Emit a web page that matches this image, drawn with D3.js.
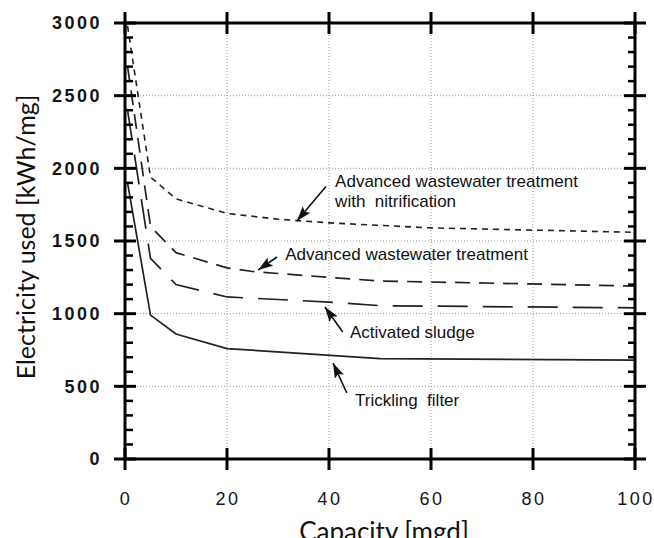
<!DOCTYPE html>
<html>
<head>
<meta charset="utf-8">
<script src="https://cdn.jsdelivr.net/npm/d3@7"></script>
<style>
  html, body { margin: 0; padding: 0; background: #fff; overflow: hidden; }
  svg text { white-space: pre; }
</style>
</head>
<body>
<div id="chart"></div>
<script>
const X_TICKS = [0, 20, 40, 60, 80, 100];
const Y_TICKS = [0, 500, 1000, 1500, 2000, 2500, 3000];

// capacity [mgd] / electricity [kWh/mg]
const NITRIF_X = [0.5, 5, 10, 20, 30, 40, 60, 100];
const NITRIF_Y = [2980, 1940, 1790, 1690, 1650, 1625, 1590, 1560];
const AWT_X = [0.5, 5, 10, 20, 25, 40, 50, 100];
const AWT_Y = [2700, 1600, 1420, 1315, 1290, 1250, 1225, 1190];
const SLUDGE_X = [0.5, 5, 10, 20, 40, 50, 100];
const SLUDGE_Y = [2400, 1380, 1200, 1115, 1080, 1055, 1040];
const TRICKLE_X = [0.5, 5, 10, 20, 50, 100];
const TRICKLE_Y = [1900, 990, 860, 760, 690, 680];

const NOTE_TEXT = [
  ["Advanced wastewater treatment", "with  nitrification"],
  ["Advanced wastewater treatment"],
  ["Activated sludge"],
  ["Trickling  filter"],
];
const NOTE_AT = [[41.2, 1872], [31.4, 1369], [44.1, 833], [45.1, 365]];
const ARROW_FROM = [[39.4, 1875], [29.8, 1390], [42.7, 874], [43.5, 454]];
const ARROW_TO = [[33.7, 1638], [26.1, 1300], [39.2, 1046], [40.8, 660]];

const series = [
  { xs: NITRIF_X, ys: NITRIF_Y, dash: "6,5", width: 1.6 },
  { xs: AWT_X, ys: AWT_Y, dash: "15,9", width: 1.7 },
  { xs: SLUDGE_X, ys: SLUDGE_Y, dash: "30,15", width: 1.7 },
  { xs: TRICKLE_X, ys: TRICKLE_Y, dash: null, width: 1.7 },
];

const W = 654, H = 538;
const x = d3.scaleLinear().domain([0, 100]).range([125, 635]);
const y = d3.scaleLinear().domain([0, 3000]).range([459, 23]);

const svg = d3.select("#chart").append("svg")
  .attr("width", W).attr("height", H);

// grid
svg.append("g").selectAll("line")
  .data(X_TICKS.slice(1, -1))
  .join("line")
  .attr("x1", (d) => x(d)).attr("x2", (d) => x(d))
  .attr("y1", y(0)).attr("y2", y(3000))
  .attr("stroke", "#9a9a9a").attr("stroke-width", 1).attr("stroke-dasharray", "1,2");
svg.append("g").selectAll("line")
  .data(Y_TICKS.slice(1, -1))
  .join("line")
  .attr("x1", x(0)).attr("x2", x(100))
  .attr("y1", (d) => y(d)).attr("y2", (d) => y(d))
  .attr("stroke", "#9a9a9a").attr("stroke-width", 1).attr("stroke-dasharray", "1,2");

// curves
const line = d3.line().x((d) => x(d[0])).y((d) => y(d[1]));
series.forEach((s) => {
  svg.append("path")
    .datum(s.xs.map((v, i) => [v, s.ys[i]]))
    .attr("d", line)
    .attr("fill", "none")
    .attr("stroke", "#222")
    .attr("stroke-width", s.width)
    .attr("stroke-dasharray", s.dash);
});

// frame
const frame = svg.append("g").attr("stroke", "#000").attr("stroke-width", 3);
frame.append("rect")
  .attr("x", x(0)).attr("y", y(3000))
  .attr("width", x(100) - x(0)).attr("height", y(0) - y(3000))
  .attr("fill", "none");

// major ticks crossing the frame
const T = 11;
X_TICKS.forEach((d) => {
  frame.append("line").attr("x1", x(d)).attr("x2", x(d)).attr("y1", y(0) - T).attr("y2", y(0) + T);
  frame.append("line").attr("x1", x(d)).attr("x2", x(d)).attr("y1", y(3000) - T).attr("y2", y(3000) + T);
});
Y_TICKS.forEach((d) => {
  frame.append("line").attr("x1", x(0) - T).attr("x2", x(0) + T).attr("y1", y(d)).attr("y2", y(d));
  frame.append("line").attr("x1", x(100) - T).attr("x2", x(100) + T).attr("y1", y(d)).attr("y2", y(d));
});
// minor ticks on y, inside
d3.range(100, 3000, 100).filter((d) => d % 500 !== 0).forEach((d) => {
  frame.append("line").attr("x1", x(0)).attr("x2", x(0) + 8).attr("y1", y(d)).attr("y2", y(d)).attr("stroke-width", 2.5);
  frame.append("line").attr("x1", x(100) - 7).attr("x2", x(100)).attr("y1", y(d)).attr("y2", y(d)).attr("stroke-width", 2.5);
});

// tick labels
svg.append("g").selectAll("text")
  .data(Y_TICKS)
  .join("text")
  .attr("x", 102)
  .attr("y", (d) => y(d))
  .attr("dy", "0.36em")
  .attr("text-anchor", "end")
  .attr("font-family", "Liberation Sans, Arial, sans-serif")
  .attr("font-weight", "bold")
  .attr("font-size", "18px")
  .attr("letter-spacing", "2.5px")
  .attr("fill", "#151515")
  .text((d) => d);

svg.append("g").selectAll("text")
  .data(X_TICKS)
  .join("text")
  .attr("x", (d) => x(d) + 1)
  .attr("y", 505)
  .attr("text-anchor", "middle")
  .attr("font-family", "Liberation Sans, Arial, sans-serif")
  .attr("font-size", "18px")
  .attr("letter-spacing", "2.5px")
  .attr("fill", "#151515")
  .text((d) => d);

// axis titles
svg.append("text")
  .attr("transform", "translate(35,237) rotate(-90)")
  .attr("text-anchor", "middle")
  .attr("font-family", "Lato, sans-serif")
  .attr("font-size", "25px")
  .attr("fill", "#111")
  .text("Electricity used [kWh/mg]");

svg.append("text")
  .attr("x", 384).attr("y", 541)
  .attr("text-anchor", "middle")
  .attr("font-family", "Lato, sans-serif")
  .attr("font-size", "26px")
  .attr("fill", "#111")
  .text("Capacity [mgd]");

// annotations
svg.append("defs").append("marker")
  .attr("id", "head")
  .attr("markerUnits", "userSpaceOnUse")
  .attr("markerWidth", 16).attr("markerHeight", 11)
  .attr("refX", 15).attr("refY", 5)
  .attr("orient", "auto")
  .append("path")
  .attr("d", "M0,0L15,5L0,10L3,5Z")
  .attr("fill", "#111");

NOTE_TEXT.forEach((lines, i) => {
  const t = svg.append("text")
    .attr("x", x(NOTE_AT[i][0])).attr("y", y(NOTE_AT[i][1]))
    .attr("font-family", "Liberation Sans, Arial, sans-serif")
    .attr("font-size", "17px")
    .attr("fill", "#111");
  lines.forEach((l, j) => {
    t.append("tspan").attr("x", x(NOTE_AT[i][0])).attr("dy", j ? 20 : 0).text(l);
  });
  svg.append("line")
    .attr("x1", x(ARROW_FROM[i][0])).attr("y1", y(ARROW_FROM[i][1]))
    .attr("x2", x(ARROW_TO[i][0])).attr("y2", y(ARROW_TO[i][1]))
    .attr("stroke", "#111").attr("stroke-width", 1.6)
    .attr("marker-end", "url(#head)");
});
</script>
</body>
</html>
